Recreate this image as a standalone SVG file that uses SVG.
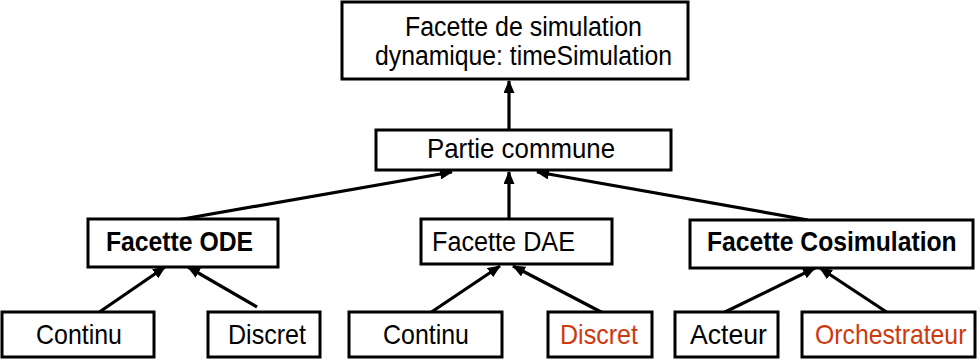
<svg xmlns="http://www.w3.org/2000/svg" width="977" height="359" viewBox="0 0 977 359">
<style>
rect{fill:#fff;stroke:#000;stroke-width:3}
text{font-family:"Liberation Sans",Arial,sans-serif;font-size:27px;fill:#000}
.b{font-weight:bold}
.r{fill:#CC3A0E}
.c line{stroke:#000;stroke-width:3.2;marker-end:url(#a)}
</style>
<defs>
<marker id="a" markerUnits="userSpaceOnUse" markerWidth="13" markerHeight="11" refX="12" refY="5.5" orient="auto">
<path d="M0,0 L13,5.5 L0,11 z" fill="#000"/>
</marker>
</defs>
<g class="c" id="connectors">
<line x1="509" y1="130" x2="509" y2="81"/>
<line x1="177" y1="220" x2="452" y2="172"/>
<line x1="509" y1="219" x2="509" y2="172"/>
<line x1="808" y1="220" x2="537" y2="172"/>
<line x1="98" y1="313" x2="165" y2="267"/>
<line x1="257" y1="307" x2="188" y2="267"/>
<line x1="430" y1="313" x2="500" y2="266"/>
<line x1="603" y1="313" x2="513" y2="266"/>
<line x1="723" y1="313" x2="815" y2="268"/>
<line x1="888" y1="313" x2="820" y2="268"/>
</g>
<g id="top">
<rect x="342" y="2" width="346" height="77"/>
<text x="405" y="35.5" textLength="237" lengthAdjust="spacingAndGlyphs">Facette de simulation</text>
<text x="375" y="65" textLength="297" lengthAdjust="spacingAndGlyphs">dynamique: timeSimulation</text>
</g>
<g id="partie">
<rect x="376" y="130" width="295" height="40"/>
<text x="427" y="158" textLength="188" lengthAdjust="spacingAndGlyphs" style="font-size:28px">Partie commune</text>
</g>
<g id="ode">
<rect x="88" y="219" width="190" height="48"/>
<text class="b" x="106" y="251" textLength="147" lengthAdjust="spacingAndGlyphs">Facette ODE</text>
</g>
<g id="dae">
<rect x="421" y="219" width="191" height="45"/>
<text x="432" y="251" textLength="143" lengthAdjust="spacingAndGlyphs">Facette DAE</text>
</g>
<g id="cosim">
<rect x="690" y="220" width="283" height="48"/>
<text class="b" transform="translate(707,251) scale(0.915,1)">Facette Cosimulation</text>
</g>
<g id="continu1">
<rect x="2" y="312" width="152" height="45"/>
<text x="36" y="344" textLength="86" lengthAdjust="spacingAndGlyphs" style="font-size:28px">Continu</text>
</g>
<g id="discret1">
<rect x="208" y="312" width="112" height="45"/>
<text x="228" y="344" textLength="78" lengthAdjust="spacingAndGlyphs" style="font-size:28px">Discret</text>
</g>
<g id="continu2">
<rect x="349" y="312" width="153" height="45"/>
<text x="383" y="344" textLength="86" lengthAdjust="spacingAndGlyphs" style="font-size:28px">Continu</text>
</g>
<g id="discret2">
<rect x="548" y="312" width="104" height="45"/>
<text class="r" x="560" y="344" textLength="78" lengthAdjust="spacingAndGlyphs" style="font-size:28px">Discret</text>
</g>
<g id="acteur">
<rect x="675" y="312" width="103" height="45"/>
<text x="690" y="344" textLength="77" lengthAdjust="spacingAndGlyphs" style="font-size:28px">Acteur</text>
</g>
<g id="orch">
<rect x="802" y="312" width="173" height="45"/>
<text class="r" transform="translate(815,344) scale(0.885,1)" style="font-size:28px">Orchestrateur</text>
</g>
</svg>
